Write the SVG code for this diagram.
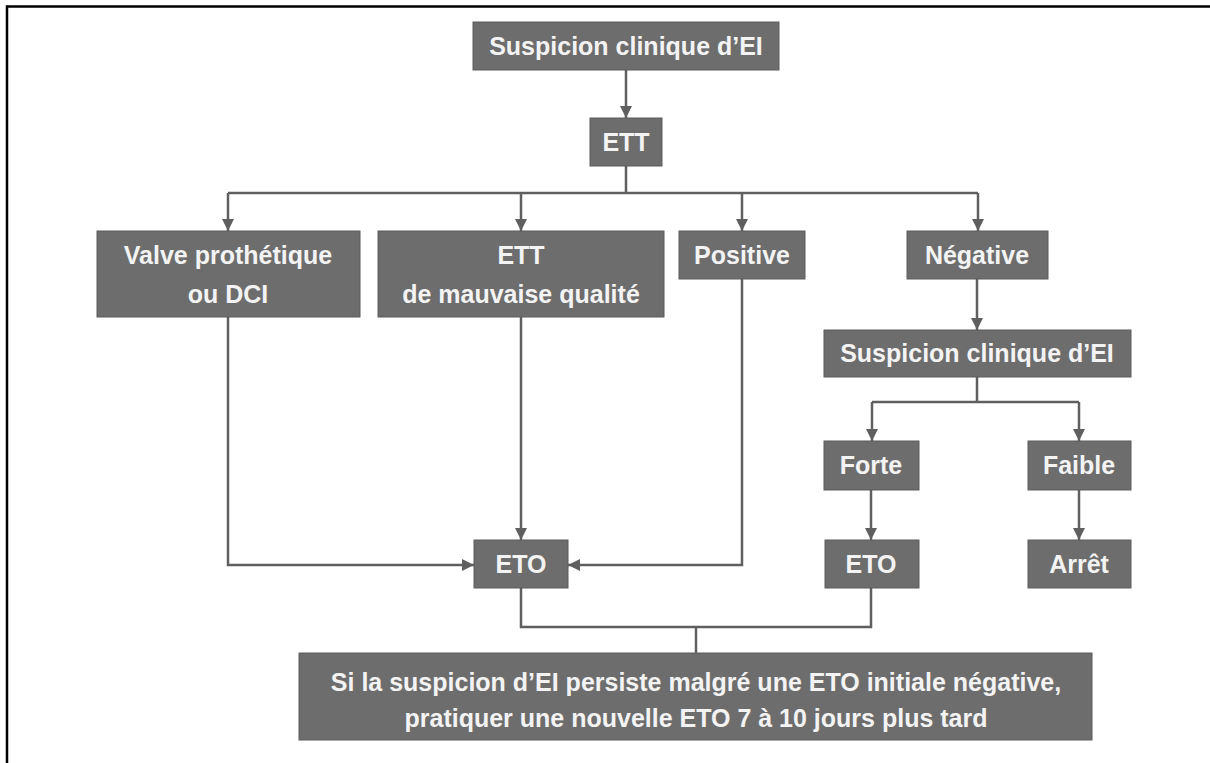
<svg xmlns="http://www.w3.org/2000/svg" width="1210" height="763" viewBox="0 0 1210 763">
<style>
.box{fill:#6d6d6d;stroke:#5c5c5c;stroke-width:1}
.t{font-family:"Liberation Sans",Arial,sans-serif;font-weight:bold;font-size:25px;fill:#f3f3f3;text-anchor:middle}
.c{fill:none;stroke:#5f5f5f;stroke-width:2.5}
.a{marker-end:url(#arr)}
</style>
<defs>
<marker id="arr" viewBox="0 0 10 10" refX="10" refY="5" markerWidth="13" markerHeight="12" markerUnits="userSpaceOnUse" orient="auto">
<path d="M0,0 L10,5 L0,10 z" fill="#5f5f5f"/>
</marker>
</defs>
<rect width="1210" height="763" fill="#ffffff"/>
<path d="M7,763 V6.5 H1210" fill="none" stroke="#000" stroke-width="2.5"/>
<g id="connectors">
<path class="c a" d="M626,70 V118"/>
<path class="c" d="M626,166 V193 M228,193 H978"/>
<path class="c a" d="M228,193 V231"/>
<path class="c a" d="M521,193 V231"/>
<path class="c a" d="M742,193 V231"/>
<path class="c a" d="M978,193 V231"/>
<path class="c a" d="M228,317 V565 H474"/>
<path class="c a" d="M521,317 V540"/>
<path class="c a" d="M742,279 V565 H568"/>
<path class="c a" d="M977,279 V330"/>
<path class="c" d="M977,377 V402 M872,402 H1079"/>
<path class="c a" d="M872,402 V441"/>
<path class="c a" d="M1079,402 V441"/>
<path class="c a" d="M871,490 V540"/>
<path class="c a" d="M1079,490 V540"/>
<path class="c" d="M521,588 V627 H871 V588 M696,627 V653"/>
</g>
<g id="n1"><rect class="box" x="473" y="22" width="306" height="48"/><text class="t" x="626" y="55">Suspicion clinique d’EI</text></g>
<g id="n2"><rect class="box" x="590" y="118" width="72" height="48"/><text class="t" x="626" y="151">ETT</text></g>
<g id="n3"><rect class="box" x="97" y="231" width="263" height="86"/><text class="t" x="228" y="264">Valve prothétique</text><text class="t" x="228" y="303">ou DCI</text></g>
<g id="n4"><rect class="box" x="378" y="231" width="286" height="86"/><text class="t" x="521" y="264">ETT</text><text class="t" x="521" y="303">de mauvaise qualité</text></g>
<g id="n5"><rect class="box" x="679" y="231" width="126" height="48"/><text class="t" x="742" y="264">Positive</text></g>
<g id="n6"><rect class="box" x="907" y="231" width="141" height="48"/><text class="t" x="977" y="264">Négative</text></g>
<g id="n7"><rect class="box" x="824" y="330" width="307" height="47"/><text class="t" x="977" y="362">Suspicion clinique d’EI</text></g>
<g id="n8"><rect class="box" x="824" y="441" width="95" height="49"/><text class="t" x="871" y="474">Forte</text></g>
<g id="n9"><rect class="box" x="1028" y="441" width="103" height="49"/><text class="t" x="1079" y="474">Faible</text></g>
<g id="n10"><rect class="box" x="474" y="540" width="94" height="48"/><text class="t" x="521" y="573">ETO</text></g>
<g id="n11"><rect class="box" x="825" y="540" width="94" height="48"/><text class="t" x="871" y="573">ETO</text></g>
<g id="n12"><rect class="box" x="1028" y="540" width="103" height="48"/><text class="t" x="1079" y="573">Arrêt</text></g>
<g id="n13"><rect class="box" x="299" y="653" width="793" height="87"/><text class="t" x="696" y="691">Si la suspicion d’EI persiste malgré une ETO initiale négative,</text><text class="t" x="696" y="727">pratiquer une nouvelle ETO 7 à 10 jours plus tard</text></g>
</svg>
